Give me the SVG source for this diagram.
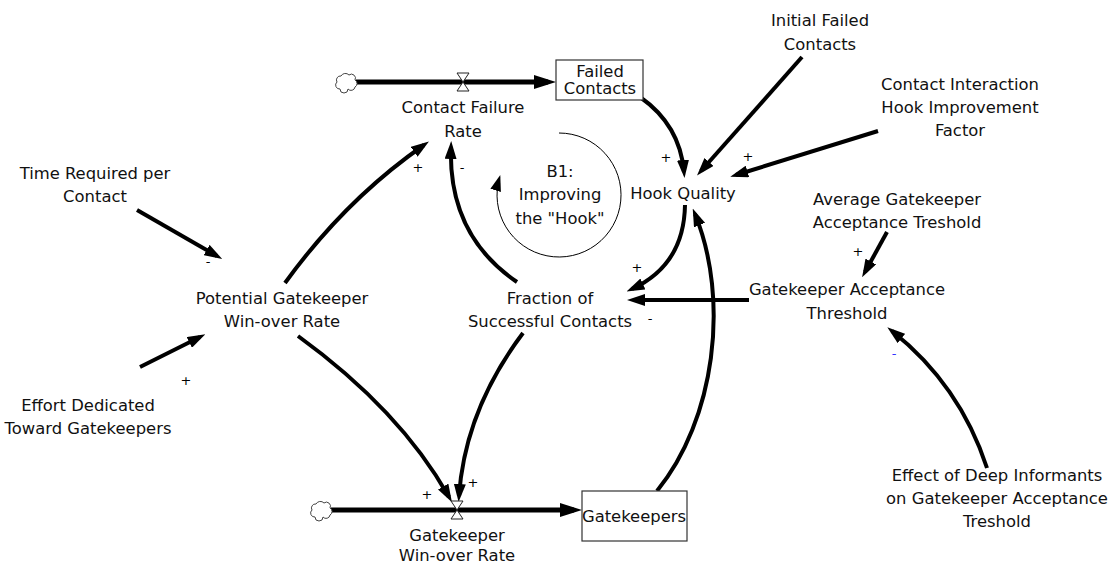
<svg xmlns="http://www.w3.org/2000/svg" width="1109" height="564" viewBox="0 0 1109 564">
  <defs>
    <style>
      text { font-family: "DejaVu Sans", "Liberation Sans", sans-serif; font-size: 16.4px; fill: #111; text-anchor: middle; }
      .pol { font-size: 13px; fill: #000; }
      .neg-blue { fill: #3333ff; }
      .link { fill: none; stroke: #000; stroke-width: 4; marker-end: url(#arrow); }
      .pipe { fill: none; stroke: #000; stroke-width: 5; marker-end: url(#pipeArrow); }
      .stock { fill: #fff; stroke: #333; stroke-width: 1.2; }
      .valve { fill: #fff; stroke: #222; stroke-width: 1; }
      .cloud { fill: #fff; stroke: #444; stroke-width: 1; }
      .loop { fill: none; stroke: #000; stroke-width: 1; marker-end: url(#loopArrow); }
    </style>
    <marker id="arrow" markerUnits="userSpaceOnUse" markerWidth="18" markerHeight="12" refX="12" refY="6" orient="auto">
      <path d="M0,0 L18,6 L0,12 Z" fill="#000"/>
    </marker>
    <marker id="pipeArrow" markerUnits="userSpaceOnUse" markerWidth="22" markerHeight="14" refX="14" refY="7" orient="auto">
      <path d="M0,0 L22,7 L0,14 Z" fill="#000"/>
    </marker>
    <marker id="loopArrow" markerUnits="userSpaceOnUse" markerWidth="16" markerHeight="11" refX="14" refY="5.5" orient="auto">
      <path d="M0,0 L16,5.5 L0,11 Z" fill="#000"/>
    </marker>
    <path id="cloudShape" class="cloud" d="M-6,7 a4,4 0 0 1 -3,-7 a4,4 0 0 1 4,-6 a5,5 0 0 1 8,-1 a4,4 0 0 1 6,5 a4,4 0 0 1 0,7 a4,4 0 0 1 -7,2 a4,4 0 0 1 -8,0 z"/>
  </defs>

  <!-- connectors and flow pipes -->
  <g id="connectors">
    <!-- flow pipes -->
    <line class="pipe" x1="356" y1="82" x2="548" y2="82"/>
    <line class="pipe" x1="331" y1="510" x2="574" y2="510"/>

    <!-- causal links -->
    <path class="link" d="M640,97 Q680,125 684,172"/>
    <path class="link" d="M802,57 L701,171"/>
    <path class="link" d="M878,131 L736,175"/>
    <path class="link" d="M685,205 Q684,265 632,289"/>
    <path class="link" d="M657,491 C715,420 730,300 695,214"/>
    <path class="link" d="M749,300 L633,300"/>
    <path class="link" d="M887,232 L865,272"/>
    <path class="link" d="M987,468 Q960,385 892,331"/>
    <path class="link" d="M517,282 Q448,235 451,147"/>
    <path class="link" d="M285,283 Q345,200 424,145"/>
    <path class="link" d="M137,210 L217,256"/>
    <path class="link" d="M140,367 L200,337"/>
    <path class="link" d="M298,336 Q400,410 449,497"/>
    <path class="link" d="M523,333 Q465,410 459,496"/>

    <!-- loop indicator -->
    <path class="loop" d="M559,133 A62,62 0 1 1 499.7,177"/>
  </g>

  <!-- polarity signs -->
  <g id="polarities">
    <text class="pol" x="418" y="172">+</text>
    <text class="pol" x="462" y="172">-</text>
    <text class="pol" x="666" y="162">+</text>
    <text class="pol" x="748" y="161">+</text>
    <text class="pol" x="637" y="272">+</text>
    <text class="pol" x="650" y="323">-</text>
    <text class="pol" x="858" y="256">+</text>
    <text class="pol neg-blue" x="894" y="358">-</text>
    <text class="pol" x="208" y="266">-</text>
    <text class="pol" x="186" y="385">+</text>
    <text class="pol" x="427" y="499">+</text>
    <text class="pol" x="473" y="487">+</text>
  </g>

  <!-- sources -->
  <use href="#cloudShape" x="346" y="82"/>
  <use href="#cloudShape" x="321" y="510"/>

  <!-- Contact Failure Rate (flow) -->
  <g id="contact-failure-rate">
    <path class="valve" d="M457,73 L469,73 L457,91 L469,91 Z"/>
    <text x="463" y="113">Contact Failure</text>
    <text x="463" y="137">Rate</text>
  </g>

  <!-- Failed Contacts (stock) -->
  <g id="failed-contacts">
    <rect class="stock" x="556" y="60" width="87" height="40"/>
    <text x="600" y="77">Failed</text>
    <text x="600" y="94">Contacts</text>
  </g>

  <g id="initial-failed-contacts">
    <text x="820" y="26">Initial Failed</text>
    <text x="820" y="50">Contacts</text>
  </g>

  <g id="contact-interaction-factor">
    <text x="960" y="90">Contact Interaction</text>
    <text x="960" y="113">Hook Improvement</text>
    <text x="960" y="136">Factor</text>
  </g>

  <g id="hook-quality">
    <text x="683" y="199">Hook Quality</text>
  </g>

  <g id="loop-b1">
    <text x="560" y="177">B1:</text>
    <text x="560" y="200">Improving</text>
    <text x="560" y="224">the "Hook"</text>
  </g>

  <g id="fraction-successful">
    <text x="550" y="304">Fraction of</text>
    <text x="550" y="327">Successful Contacts</text>
  </g>

  <g id="potential-winover-rate">
    <text x="282" y="304">Potential Gatekeeper</text>
    <text x="282" y="327">Win-over Rate</text>
  </g>

  <g id="time-per-contact">
    <text x="95" y="179">Time Required per</text>
    <text x="95" y="202">Contact</text>
  </g>

  <g id="effort-gatekeepers">
    <text x="88" y="411">Effort Dedicated</text>
    <text x="88" y="434">Toward Gatekeepers</text>
  </g>

  <g id="acceptance-threshold">
    <text x="847" y="295">Gatekeeper Acceptance</text>
    <text x="847" y="319">Threshold</text>
  </g>

  <g id="average-acceptance">
    <text x="897" y="205">Average Gatekeeper</text>
    <text x="897" y="228">Acceptance Treshold</text>
  </g>

  <g id="deep-informants-effect">
    <text x="997" y="481">Effect of Deep Informants</text>
    <text x="997" y="504">on Gatekeeper Acceptance</text>
    <text x="997" y="527">Treshold</text>
  </g>

  <!-- Gatekeeper Win-over Rate (flow) -->
  <g id="gatekeeper-winover-rate">
    <path class="valve" d="M451,501 L463,501 L451,519 L463,519 Z"/>
    <text x="457" y="541">Gatekeeper</text>
    <text x="457" y="561">Win-over Rate</text>
  </g>

  <!-- Gatekeepers (stock) -->
  <g id="gatekeepers">
    <rect class="stock" x="582" y="491" width="105" height="50"/>
    <text x="634" y="522">Gatekeepers</text>
  </g>
</svg>
